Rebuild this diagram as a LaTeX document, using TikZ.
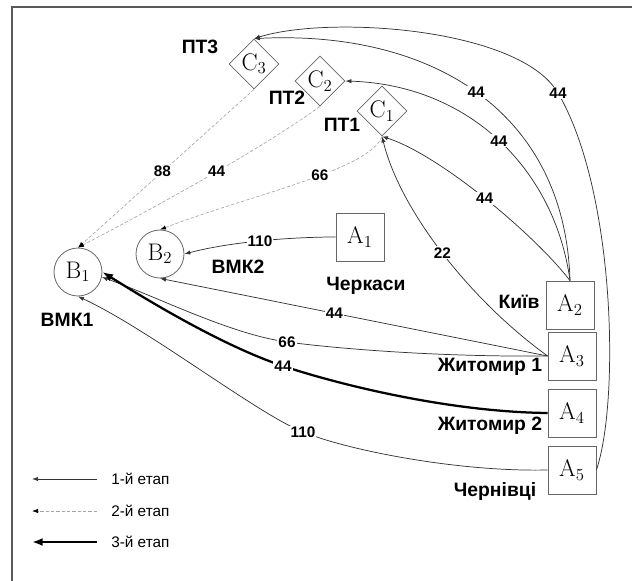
\documentclass[tikz,border=0pt]{standalone}
\usepackage{fontspec}
\newfontfamily\lab{Liberation Sans}
\usetikzlibrary{shapes.geometric,arrows.meta}
\newcommand{\nm}[2]{#1\textsubscript{#2}}
\tikzset{
  anode/.style={draw=black!60, line width=0.6pt, minimum size=36pt, inner sep=0pt, fill=white,
    font=\fontsize{18}{18}\selectfont},
  bnode/.style={circle, draw=black!60, line width=0.6pt, minimum size=36pt, inner sep=0pt, fill=white,
    font=\fontsize{18}{18}\selectfont},
  cnode/.style={diamond, aspect=1, draw=black!60, line width=0.6pt, minimum size=37.5pt, inner sep=0pt, fill=white,
    font=\fontsize{18}{18}\selectfont},
  place/.style={font=\lab\bfseries\fontsize{14.5}{14.5}\selectfont, inner sep=0pt},
  lbl/.style={font=\lab\bfseries\fontsize{11.5}{11.5}\selectfont, fill=white, inner sep=0.8pt},
  leg/.style={font=\lab\fontsize{11.5}{11.5}\selectfont, anchor=west, inner sep=0pt},
  e/.style={draw=black!80, line width=0.55pt, -{Latex[length=4.5pt,width=3.2pt]}},
  thk/.style={draw=black, line width=1.7pt, -{Latex[length=8pt,width=6pt]}},
  dsh/.style={draw=black!35, line width=0.5pt, dash pattern=on 2.5pt off 1.5pt,
    -{Latex[length=4.5pt,width=3.2pt,color=black]}},
}
\begin{document}
\begin{tikzpicture}[x=0.75pt,y=-0.75pt]
\useasboundingbox (0,0) rectangle (632,581);
% frame
\draw[black!65, line width=1.3pt] (12,581) -- (12,7) -- (632,7);

% nodes
\node[bnode] (B1) at (78,272) {\nm{B}{1}};
\node[bnode] (B2) at (160,254) {\nm{B}{2}};
\node[anode] (A1) at (360,237) {\nm{A}{1}};
\node[anode] (A2) at (570,305) {\nm{A}{2}};
\node[anode] (A3) at (572,356) {\nm{A}{3}};
\node[anode] (A4) at (572,413) {\nm{A}{4}};
\node[anode] (A5) at (572,470) {\nm{A}{5}};
\node[cnode] (C1) at (382,111) {\nm{C}{1}};
\node[cnode] (C2) at (320,81) {\nm{C}{2}};
\node[cnode] (C3) at (254,64) {\nm{C}{3}};

% place labels
\node[place] (lPT3) at (200,47) {ПТ3};
\node[place] (lPT2) at (287,98) {ПТ2};
\node[place] (lPT1) at (342,125) {ПТ1};
\node[place] (lVMK1) at (67,320) {ВМК1};
\node[place] (lVMK2) at (238,267) {ВМК2};
\node[place] (lCh) at (366,286) {Черкаси};
\node[place] (lKy) at (519,302) {Київ};
\node[place] (lZh1) at (490,367) {Житомир 1};
\node[place] (lZh2) at (490,426) {Житомир 2};
\node[place] (lChv) at (495,491) {Чернівці};

% stage 1 edges
\draw[e] (A1.west) .. controls (290,237) and (230,242) .. node[lbl,pos=0.5]{110} (B2.east);
\draw[e] (A3.west) -- node[lbl,pos=0.55]{44} (B2.south);
\draw[e] (A3.west) .. controls (440,357) and (340,349) .. (287,342) node[lbl]{66}
   .. controls (230,334) and (160,298) .. (B1.-12);
\draw[e] (A5.west) .. controls (460,472) and (350,451) .. (303,432) node[lbl]{110}
   .. controls (256,413) and (150,330) .. (B1.south);
\draw[e] (A2.north) .. controls (535,235) and (440,155) .. node[lbl,pos=0.5]{44} (C1.south);
\draw[e] (A3.west) .. controls (470,300) and (400,210) .. node[lbl,pos=0.5]{22} (C1.south);
\draw[e] (A2.north) .. controls (555,170) and (470,85) .. node[lbl,pos=0.5]{44} (C2.east);
\draw[e] (A2.north) .. controls (565,110) and (430,30) .. node[lbl,pos=0.5]{44} (C3.north);
\draw[e] (A5.east) .. controls (620,400) and (615,190) .. (558,93) node[lbl]{44}
   .. controls (520,28) and (330,15) .. (C3.north);

% stage 3 edge
\draw[thk] (A4.west) .. controls (450,412) and (340,385) .. (283,366) node[lbl]{44}
   .. controls (226,347) and (155,305) .. (B1.east);

% stage 2 edges
\draw[dsh] (C3.south) -- node[lbl,pos=0.52]{88} (B1.north);
\draw[dsh] (C2.south) .. controls (260,150) and (150,210) .. node[lbl,pos=0.45]{44} (B1.north);
\draw[dsh] (C1.south) .. controls (370,170) and (250,195) .. node[lbl,pos=0.42]{66} (B2.north);

% legend
\coordinate (L1a) at (97,479); \coordinate (L1b) at (32,479);
\coordinate (L2a) at (97,511); \coordinate (L2b) at (32,511);
\coordinate (L3a) at (97,542); \coordinate (L3b) at (32,542);
\draw[e] (L1a) -- (L1b);
\draw[dsh] (L2a) -- (L2b);
\draw[thk] (L3a) -- (L3b);
\node[leg] (T1) at (111,479) {1-й етап};
\node[leg] (T2) at (111,511) {2-й етап};
\node[leg] (T3) at (111,542) {3-й етап};
\end{tikzpicture}
\end{document}
